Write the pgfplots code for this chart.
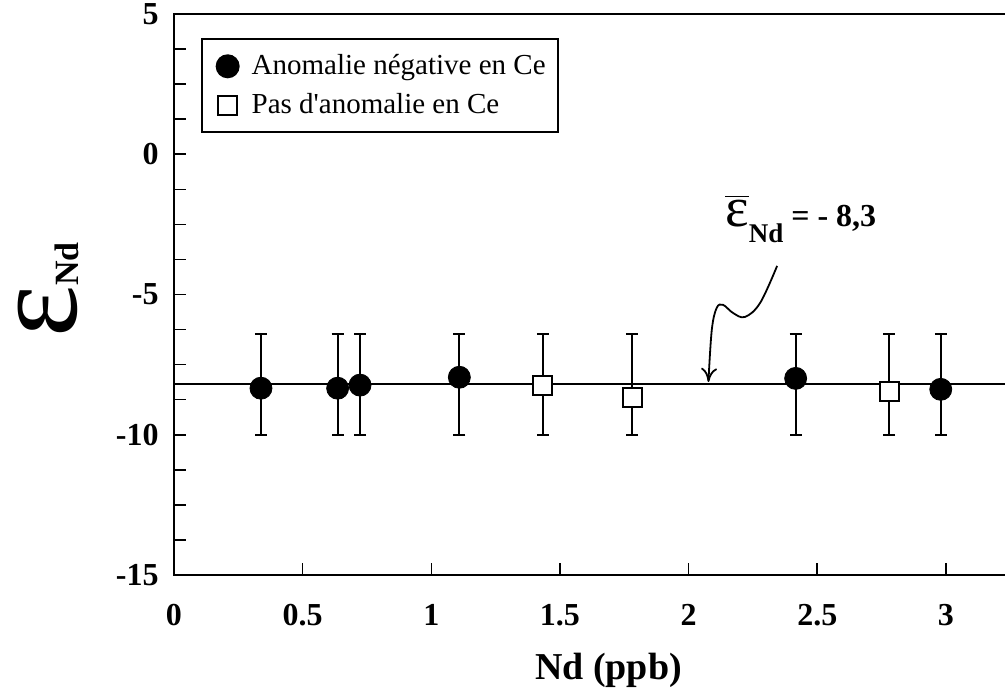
\documentclass[border=0pt]{standalone}
\usepackage{pgfplots}
\pgfplotsset{compat=1.18}
\usepackage{fontspec}
\setmainfont{Liberation Serif}
\usetikzlibrary{arrows.meta}

\begin{document}
\begin{tikzpicture}
\begin{axis}[
  scale only axis, width=419.4pt, height=280.5pt,
  xmin=0, xmax=3.26, ymin=-15, ymax=5,
  tick align=inside, xtick pos=bottom, ytick pos=left,
  xtick={0,0.5,1,1.5,2,2.5,3},
  xticklabels={0,0.5,1,1.5,2,2.5,3},
  ytick={-15,-10,-5,0,5},
  yticklabels={-15,-10,-5,0,5},
  minor y tick num=3,
  major tick length=6pt, minor tick length=6pt,
  every tick/.style={black, line width=0.8pt},
  axis line style={line width=1pt},
  tick label style={font=\fontsize{16}{16}\selectfont\bfseries},
  xticklabel style={anchor=base, yshift=-25pt, inner sep=0pt},
  yticklabel style={anchor=east, xshift=-7.5pt, inner sep=0pt},
  xlabel={\fontsize{19}{19}\selectfont\bfseries Nd (ppb)},
  xlabel style={at={(axis description cs:0.518,-0.187)}, anchor=base},
  ylabel={{\fontsize{62}{62}\selectfont ε}\raisebox{-1pt}{\fontsize{17}{17}\selectfont\bfseries Nd}},
  ylabel style={at={(axis description cs:-0.116,0.508)}, anchor=base},
  legend style={at={(axis description cs:0.0318,0.9567)}, anchor=north west,
    draw=black, line width=1pt, fill=white, inner xsep=4.5pt, inner ysep=5pt,
    row sep=2.5pt, nodes={inner sep=1.5pt, text height=11pt, text depth=3pt},
    font=\fontsize{14.5}{14.5}\selectfont},
  legend cell align=left,
  legend image code/.code={\path[draw=none] (0pt,0pt) -- (19pt,0pt);\draw[mark repeat=2,mark phase=2,#1] plot coordinates {(0pt,0pt)(8.5pt,0pt)(17pt,0pt)};},
]
% mean line with error bars
\addplot[black, line width=1pt, mark=none, forget plot,
  error bars/.cd, y dir=both, y explicit,
  error bar style={line width=1pt},
  error mark options={rotate=90, line width=1pt, mark size=3pt}]
  coordinates {
  (0,-8.2) +- (0,0)
  (0.338,-8.2) +- (0,1.8)
  (0.636,-8.2) +- (0,1.8)
  (0.723,-8.2) +- (0,1.8)
  (1.109,-8.2) +- (0,1.8)
  (1.434,-8.2) +- (0,1.8)
  (1.780,-8.2) +- (0,1.8)
  (2.416,-8.2) +- (0,1.8)
  (2.779,-8.2) +- (0,1.8)
  (2.980,-8.2) +- (0,1.8)
  (3.26,-8.2) +- (0,0)
  };
\addplot[only marks, mark=*, mark size=5.5pt, mark options={fill=black, draw=black}]
  coordinates {(0.338,-8.34) (0.636,-8.34) (0.723,-8.23) (1.109,-7.95) (2.416,-7.99) (2.980,-8.38)};
\addlegendentry{Anomalie négative en Ce}
\addplot[only marks, mark=square*, mark size=4.75pt, mark options={fill=white, draw=black, line width=1pt}]
  coordinates {(1.434,-8.25) (1.780,-8.68) (2.779,-8.46)};
\addlegendentry{Pas d\textquotesingle anomalie en Ce}
% annotation
\draw[line width=0.9pt, -{To[length=7pt,width=8pt]}] plot[smooth, tension=0.6] coordinates {
  (axis cs:2.344,-3.98) (axis cs:2.278,-5.30) (axis cs:2.219,-5.80) (axis cs:2.173,-5.66)
  (axis cs:2.134,-5.37) (axis cs:2.109,-5.48) (axis cs:2.090,-6.27) (axis cs:2.077,-8.12)};
\node[anchor=base west, inner sep=0pt] at (axis cs:2.141,-2.56)
  {{\fontsize{28}{28}\selectfont$\overline{\hbox{ε}}$}\raisebox{-8pt}{\fontsize{13.5}{13.5}\selectfont\bfseries Nd}\hspace{4pt}{\fontsize{16}{16}\selectfont\bfseries = - 8,3}};
\end{axis}
\pgfresetboundingbox
\useasboundingbox (-87pt,-59pt) rectangle (415.5pt,287.5pt);
\end{tikzpicture}
\end{document}
